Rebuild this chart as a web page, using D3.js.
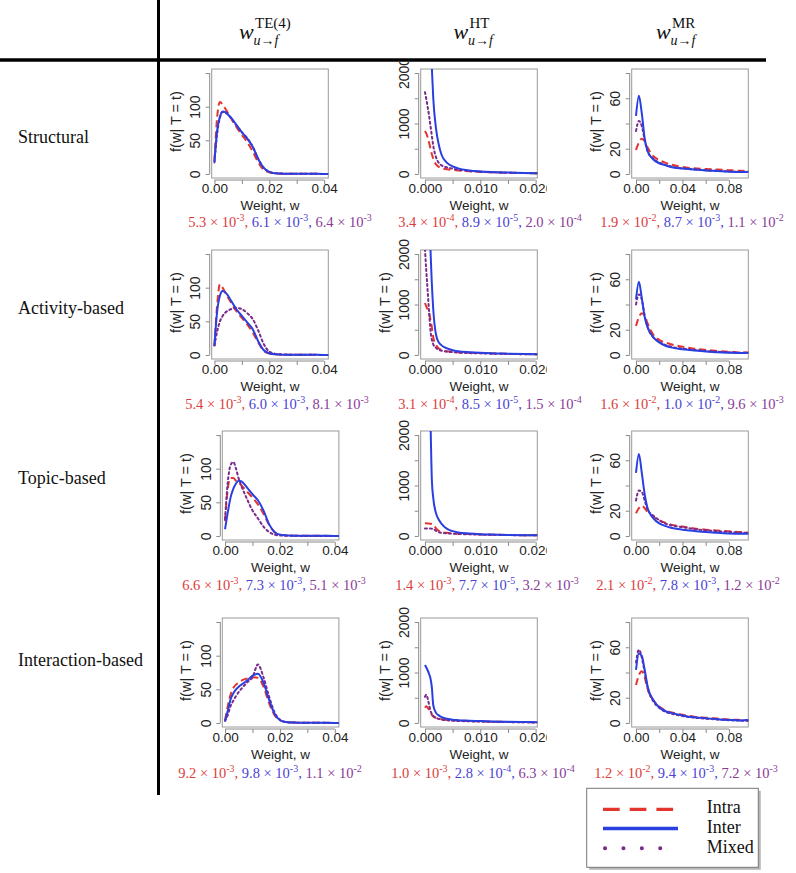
<!DOCTYPE html>
<html><head><meta charset="utf-8">
<script src="https://cdn.jsdelivr.net/npm/d3@7"></script>
<style>html,body{margin:0;padding:0;background:#fff;} svg{display:block;}</style>
</head><body>
<svg id="chart" width="796" height="873"></svg>
<script>
// ---------------- DATA ----------------
const rowLabels = ["Structural", "Activity-based", "Topic-based", "Interaction-based"];
const seriesNames = ["Intra", "Inter", "Mixed"];

// TE(4) column: weight grid and densities
const teW = [0, 0.001, 0.002, 0.003, 0.004, 0.005, 0.006, 0.008, 0.010, 0.012, 0.014, 0.016, 0.018, 0.020, 0.022, 0.025, 0.030, 0.035, 0.040, 0.045];
const te_structural_intra = [20, 85, 107, 103, 97, 90, 83, 70, 58, 47, 33, 17, 6, 2.5, 1, 0.5, 0.3, 0.2, 0.1, 0.1];
const te_structural_inter = [18, 65, 85, 93, 92, 88, 84, 73, 62, 52, 40, 22, 9, 3, 1.2, 0.5, 0.3, 0.2, 0.1, 0.1];
const te_structural_mixed = [17, 60, 84, 92, 91, 88, 83, 72, 62, 53, 40, 22, 9, 3, 1.2, 0.5, 0.3, 0.2, 0.1, 0.1];
const te_activity_intra = [13, 75, 105, 100, 92, 85, 78, 65, 55, 45, 33, 18, 6, 2, 1, 0.5, 0.3, 0.2, 0.1, 0.1];
const te_activity_inter = [14, 65, 88, 95, 93, 88, 81, 68, 58, 48, 38, 20, 7, 2.5, 1, 0.5, 0.3, 0.2, 0.1, 0.1];
const te_activity_mixed = [14, 35, 50, 58, 63, 66, 68, 70, 68, 62, 53, 36, 16, 5, 2, 0.7, 0.3, 0.2, 0.1, 0.1];
const te_topic_intra = [22, 70, 86, 86, 82, 79, 75, 66, 57, 47, 33, 17, 6, 2, 1, 0.5, 0.3, 0.2, 0.1, 0.1];
const te_topic_inter = [10, 35, 57, 70, 78, 82, 81, 72, 62, 53, 38, 18, 6, 2, 1, 0.5, 0.3, 0.2, 0.1, 0.1];
const te_topic_mixed = [25, 80, 105, 110, 100, 85, 74, 55, 38, 26, 14, 6, 2, 0.8, 0.4, 0.2, 0.1, 0.1, 0.1, 0.1];
const te_interaction_intra = [4, 25, 42, 52, 57, 60, 63, 66, 68, 67, 54, 30, 12, 4, 1.5, 0.6, 0.3, 0.2, 0.1, 0.1];
const te_interaction_inter = [3, 18, 35, 44, 50, 54, 57, 63, 70, 73, 60, 35, 14, 4, 1.5, 0.6, 0.3, 0.2, 0.1, 0.1];
const te_interaction_mixed = [3, 12, 25, 33, 40, 46, 51, 60, 68, 87, 68, 40, 16, 5, 1.5, 0.6, 0.3, 0.2, 0.1, 0.1];

// HT column
const htW = [0, 0.00025, 0.0005, 0.00075, 0.001, 0.00125, 0.0015, 0.002, 0.0025, 0.003, 0.004, 0.005, 0.006, 0.008, 0.010, 0.012, 0.015, 0.018, 0.021];
const ht_structural_intra = [850, 800, 720, 620, 500, 390, 300, 190, 140, 115, 95, 80, 70, 52, 40, 32, 23, 17, 13];
const ht_structural_inter = [7000, 6000, 5000, 3800, 2700, 2100, 1500, 900, 580, 380, 220, 150, 110, 70, 50, 38, 28, 20, 15];
const ht_structural_mixed = [1620, 1480, 1320, 1150, 950, 750, 560, 330, 220, 170, 130, 105, 85, 60, 45, 35, 25, 18, 14];
const ht_activity_intra = [1030, 960, 900, 830, 700, 540, 350, 200, 130, 100, 75, 62, 55, 45, 38, 30, 22, 17, 13];
const ht_activity_inter = [7000, 6000, 4500, 3200, 2100, 1400, 900, 400, 250, 190, 130, 95, 75, 55, 42, 33, 25, 18, 14];
const ht_activity_mixed = [2100, 1650, 1250, 850, 480, 300, 210, 140, 100, 85, 65, 55, 48, 38, 32, 26, 20, 15, 12];
const ht_topic_intra = [250, 250, 248, 245, 242, 238, 230, 150, 100, 80, 62, 52, 45, 37, 30, 25, 19, 15, 12];
const ht_topic_inter = [7000, 6000, 5000, 3800, 2300, 1100, 750, 450, 320, 240, 140, 95, 70, 48, 35, 28, 20, 15, 12];
const ht_topic_mixed = [150, 150, 149, 148, 146, 144, 140, 100, 75, 62, 52, 45, 40, 33, 28, 23, 18, 14, 11];
const ht_interaction_intra = [300, 330, 300, 260, 200, 160, 130, 100, 85, 75, 62, 52, 46, 38, 32, 26, 20, 15, 12];
const ht_interaction_inter = [1150, 1100, 1040, 970, 880, 700, 350, 200, 150, 115, 85, 65, 55, 45, 38, 30, 22, 17, 13];
const ht_interaction_mixed = [520, 560, 480, 360, 240, 180, 140, 100, 80, 68, 55, 46, 40, 32, 27, 22, 17, 13, 10];

// MR column
const mrW = [0, 0.0025, 0.005, 0.0075, 0.01, 0.015, 0.02, 0.025, 0.03, 0.04, 0.05, 0.06, 0.07, 0.08, 0.09, 0.1];
const mr_structural_intra = [19, 25, 28, 26, 21, 14, 11, 9, 7.5, 5.5, 4.5, 4, 3.5, 3, 2.5, 2.2];
const mr_structural_inter = [46, 62, 48, 28, 18, 11.5, 8.5, 7, 5.5, 4.3, 3.5, 2.8, 2.3, 1.8, 1.5, 1.8];
const mr_structural_mixed = [34, 42, 38, 27, 18, 12, 9, 7.2, 6, 4.5, 3.6, 3, 2.5, 2, 1.7, 1.5];
const mr_activity_intra = [23, 30, 33, 31, 25, 16, 12, 10, 8.5, 6.5, 5, 4, 3.2, 2.5, 2, 2];
const mr_activity_inter = [44, 58, 45, 30, 22, 14, 10, 7.5, 6, 4.5, 3.5, 2.8, 2.2, 1.8, 1.5, 1.8];
const mr_activity_mixed = [40, 48, 44, 31, 22, 14, 10.5, 8, 6.5, 5, 4, 3.2, 2.6, 2.1, 1.8, 1.5];
const mr_topic_intra = [18, 22, 24, 22, 19, 15, 12.5, 10.5, 9, 7.5, 6, 5, 4.3, 3.7, 3, 2.5];
const mr_topic_inter = [50, 65, 50, 33, 22, 14, 10, 8, 6.5, 5, 4, 3.2, 2.5, 2, 1.8, 1.8];
const mr_topic_mixed = [28, 36, 35, 28, 21, 16, 12.5, 10, 8.5, 7, 5.5, 4.5, 3.8, 3.2, 2.7, 2.3];
const mr_interaction_intra = [30, 38, 41, 36, 27, 18, 13, 10, 8.5, 6.5, 5, 4.2, 3.5, 2.8, 2.4, 2];
const mr_interaction_inter = [42, 55, 53, 42, 29, 18, 12.5, 9.5, 8, 6, 4.5, 3.8, 3, 2.4, 2, 2.5];
const mr_interaction_mixed = [48, 58, 52, 40, 28, 17, 12, 9, 7.5, 5.5, 4.2, 3.4, 2.8, 2.2, 1.8, 1.6];

// Mean values printed under each panel (Intra, Inter, Mixed)
const notes_structural = [["5.3e-3", "6.1e-3", "6.4e-3"], ["3.4e-4", "8.9e-5", "2.0e-4"], ["1.9e-2", "8.7e-3", "1.1e-2"]];
const notes_activity = [["5.4e-3", "6.0e-3", "8.1e-3"], ["3.1e-4", "8.5e-5", "1.5e-4"], ["1.6e-2", "1.0e-2", "9.6e-3"]];
const notes_topic = [["6.6e-3", "7.3e-3", "5.1e-3"], ["1.4e-3", "7.7e-5", "3.2e-3"], ["2.1e-2", "7.8e-3", "1.2e-2"]];
const notes_interaction = [["9.2e-3", "9.8e-3", "1.1e-2"], ["1.0e-3", "2.8e-4", "6.3e-4"], ["1.2e-2", "9.4e-3", "7.2e-3"]];

// Axis ticks
const teXTicks = [0, 0.01, 0.02, 0.03, 0.04];
const teXLabels = [0, 0.02, 0.04];
const teYTicks = [0, 50, 100, 150];
const teYLabels = [0, 50, 100];
const htXTicks = [0, 0.005, 0.01, 0.015, 0.02];
const htXLabels = [0, 0.01, 0.02];
const htYTicks = [0, 500, 1000, 1500, 2000];
const htYLabels = [0, 1000, 2000];
const mrXTicks = [0, 0.02, 0.04, 0.06, 0.08];
const mrXLabels = [0, 0.04, 0.08];
const mrYTicks = [0, 20, 40, 60, 80];
const mrYLabels = [0, 20, 60];

// ---------------- ASSEMBLY ----------------
const columns = [
  { sup: "TE(4)", w: teW, xDomain: [-0.001, 0.0415], yDomain: [-6, 156], xTicks: teXTicks, xLabels: teXLabels, xFmt: d3.format(".2f"), yTicks: teYTicks, yLabels: teYLabels,
    series: [[te_structural_intra, te_structural_inter, te_structural_mixed], [te_activity_intra, te_activity_inter, te_activity_mixed], [te_topic_intra, te_topic_inter, te_topic_mixed], [te_interaction_intra, te_interaction_inter, te_interaction_mixed]] },
  { sup: "HT", w: htW, xDomain: [-0.00077, 0.0203], yDomain: [-80, 2080], xTicks: htXTicks, xLabels: htXLabels, xFmt: d3.format(".3f"), yTicks: htYTicks, yLabels: htYLabels,
    series: [[ht_structural_intra, ht_structural_inter, ht_structural_mixed], [ht_activity_intra, ht_activity_inter, ht_activity_mixed], [ht_topic_intra, ht_topic_inter, ht_topic_mixed], [ht_interaction_intra, ht_interaction_inter, ht_interaction_mixed]] },
  { sup: "MR", w: mrW, xDomain: [-0.0037, 0.0967], yDomain: [-3.2, 83.2], xTicks: mrXTicks, xLabels: mrXLabels, xFmt: d3.format(".2f"), yTicks: mrYTicks, yLabels: mrYLabels,
    series: [[mr_structural_intra, mr_structural_inter, mr_structural_mixed], [mr_activity_intra, mr_activity_inter, mr_activity_mixed], [mr_topic_intra, mr_topic_inter, mr_topic_mixed], [mr_interaction_intra, mr_interaction_inter, mr_interaction_mixed]] }
];
const notes = [notes_structural, notes_activity, notes_topic, notes_interaction];

// ---------------- STYLE / LAYOUT ----------------
const lineColors = ["#e3352d", "#2a3fe0", "#7a2b8c"];
const noteColors = ["#dc3c3c", "#4a3fd6", "#8a3a98"];
const dashes = ["7,4", null, "2,3"];
const BOX_W = 116.6, BOX_H = 109;
const rowTop = [69, 250, 431, 618];
const colLeft = [[211.7, 211.7, 222.3, 222.3], [420.7, 420.7, 420.7, 420.7], [631.7, 631.7, 631.7, 631.7]];
const noteX = [[280, 490, 692], [277, 490, 692], [274, 487, 688], [270, 483, 686]];
const noteY = [227, 409, 590, 778];
const rowLabelY = [137, 308, 478, 660];
const headerX = [239, 453.5, 656];
const SANS = "'Liberation Sans', Arial, Helvetica, sans-serif";
const SERIF = "'Liberation Serif', 'Times New Roman', serif";
const drawOrder = [0, 2, 1];

const svg = d3.select("#chart");
const defs = svg.append("defs");

// Headers
columns.forEach((col, c) => {
  const x0 = headerX[c];
  svg.append("text").attr("x", x0).attr("y", 38.5).attr("font-family", SERIF).attr("font-style", "italic")
    .attr("font-size", 22).attr("fill", "#111").text("w");
  svg.append("text").attr("x", x0 + 16).attr("y", 27.5).attr("font-family", SERIF)
    .attr("font-size", 15).attr("fill", "#111").text(col.sup);
  svg.append("text").attr("x", x0 + 14.5).attr("y", 45).attr("font-family", SERIF).attr("font-style", "italic")
    .attr("font-size", 14).attr("fill", "#111").text("u→f");
});

// Row labels
rowLabels.forEach((lab, r) => {
  svg.append("text").attr("x", 18).attr("y", rowLabelY[r] + 6).attr("font-family", SERIF)
    .attr("font-size", 18).attr("fill", "#111").text(lab);
});

// Panels
rowLabels.forEach((lab, r) => {
  columns.forEach((col, c) => {
    const L = colLeft[c][r], T = rowTop[r], B = T + BOX_H, R = L + BOX_W;
    const x = d3.scaleLinear().domain(col.xDomain).range([L, R]);
    const y = d3.scaleLinear().domain(col.yDomain).range([B, T]);

    const clipId = `clip-${r}-${c}`;
    defs.append("clipPath").attr("id", clipId).append("rect").attr("x", L).attr("y", T).attr("width", BOX_W).attr("height", BOX_H);
    const outerId = `outer-${r}-${c}`;
    defs.append("clipPath").attr("id", outerId).append("rect")
      .attr("x", c === 1 ? 378 : L - 60).attr("y", (c === 1 && r === 0) ? T - 7 : T - 30)
      .attr("width", c === 1 ? 546.7 - 378 : BOX_W + 80).attr("height", 200);

    const g = svg.append("g").attr("clip-path", `url(#${outerId})`);

    // box
    g.append("rect").attr("x", L).attr("y", T).attr("width", BOX_W).attr("height", BOX_H)
      .attr("fill", "none").attr("stroke", "#9a9a9a").attr("stroke-width", 1);

    // curves
    const line = d3.line().x((d, i) => x(col.w[i])).y(d => y(d)).curve(d3.curveMonotoneX);
    const cg = g.append("g").attr("clip-path", `url(#${clipId})`);
    drawOrder.forEach(s => {
      cg.append("path").attr("d", line(col.series[r][s])).attr("fill", "none")
        .attr("stroke", lineColors[s]).attr("stroke-width", 2)
        .attr("stroke-dasharray", dashes[s]).attr("stroke-linecap", s === 2 ? "round" : "butt")
        .attr("stroke-linejoin", "round");
    });

    // y axis
    const ya = d3.axisLeft(y).tickValues(col.yTicks).tickSize(4).tickSizeOuter(0)
      .tickFormat(d => col.yLabels.includes(d) ? d3.format("d")(d) : "");
    const yg = g.append("g").attr("transform", `translate(${L - 2},0)`).call(ya);
    yg.select(".domain").remove();
    yg.append("line").attr("x1", 0).attr("x2", 0).attr("y1", y(col.yTicks[0])).attr("y2", y(col.yTicks[col.yTicks.length - 1]))
      .attr("stroke", "#8a8a8a");
    yg.selectAll(".tick line").attr("stroke", "#8a8a8a");
    yg.selectAll(".tick text").attr("x", null).attr("dy", null)
      .attr("transform", "translate(-14.5,0) rotate(-90)").attr("text-anchor", "middle")
      .attr("dominant-baseline", "central").attr("font-family", SANS).attr("font-size", 14).attr("fill", "#222");

    // x axis
    const xa = d3.axisBottom(x).tickValues(col.xTicks).tickSize(4).tickSizeOuter(0)
      .tickFormat(d => col.xLabels.some(v => Math.abs(v - d) < 1e-9) ? col.xFmt(d) : "");
    const xg = g.append("g").attr("transform", `translate(0,${B + 2})`).call(xa);
    xg.select(".domain").remove();
    xg.append("line").attr("y1", 0).attr("y2", 0).attr("x1", x(col.xTicks[0])).attr("x2", x(col.xTicks[col.xTicks.length - 1]))
      .attr("stroke", "#8a8a8a");
    xg.selectAll(".tick line").attr("stroke", "#8a8a8a");
    xg.selectAll(".tick text").attr("y", 8.5).attr("dy", null).attr("dominant-baseline", "central")
      .attr("font-family", SANS).attr("font-size", 13.5).attr("fill", "#222");

    // axis titles
    g.append("text").attr("x", (L + R) / 2).attr("y", B + 27).attr("text-anchor", "middle").attr("dominant-baseline", "central")
      .attr("font-family", SANS).attr("font-size", 13.5).attr("fill", "#222").text("Weight, w");
    if (!(c === 1 && (r === 0 || r === 2))) {
      g.append("text").attr("transform", `translate(${L - 36},${(T + B) / 2 - 2}) rotate(-90)`)
        .attr("text-anchor", "middle").attr("dominant-baseline", "central")
        .attr("font-family", SANS).attr("font-size", 14.5).attr("fill", "#222").text("f(w| T = t)");
    }

    // annotation of means
    const t = svg.append("text").attr("x", noteX[r][c]).attr("y", noteY[r]).attr("text-anchor", "middle")
      .attr("font-family", SERIF).attr("font-size", 14.5);
    notes[r][c].forEach((v, s) => {
      const [m, e] = v.split("e");
      t.append("tspan").attr("fill", noteColors[s]).text(`${m} × 10`);
      t.append("tspan").attr("fill", noteColors[s]).attr("font-size", 10).attr("dy", -6).text(e);
      if (s < 2) t.append("tspan").attr("fill", noteColors[s]).attr("dy", 6).text(", ");
    });
  });
});

// Frame lines
svg.append("line").attr("x1", 0).attr("x2", 766).attr("y1", 60).attr("y2", 60).attr("stroke", "#000").attr("stroke-width", 3.5);
svg.append("line").attr("x1", 158.5).attr("x2", 158.5).attr("y1", 0).attr("y2", 795).attr("stroke", "#000").attr("stroke-width", 3);

// Legend
const lg = svg.append("g");
lg.append("rect").attr("x", 589.2).attr("y", 790.8).attr("width", 171.6).attr("height", 79).attr("fill", "#b8b8b8");
lg.append("rect").attr("x", 586.7).attr("y", 788.3).attr("width", 171.6).attr("height", 79).attr("fill", "#fff").attr("stroke", "#777").attr("stroke-width", 1);
const legLineY = [809.3, 828.5, 848.3];
const legTextY = [812.7, 833.3, 852.7];
const legDash = ["16.7,10", null, "0.1,18.3"];
seriesNames.forEach((name, s) => {
  lg.append("line").attr("x1", s === 2 ? 605 : 603).attr("x2", 678).attr("y1", legLineY[s]).attr("y2", legLineY[s])
    .attr("stroke", lineColors[s]).attr("stroke-width", s === 2 ? 4 : 3.3)
    .attr("stroke-dasharray", legDash[s]).attr("stroke-linecap", s === 2 ? "round" : "butt");
  lg.append("text").attr("x", 706.7).attr("y", legTextY[s]).attr("font-family", SERIF).attr("font-size", 18)
    .attr("fill", "#111").text(name);
});
</script>
</body></html>
